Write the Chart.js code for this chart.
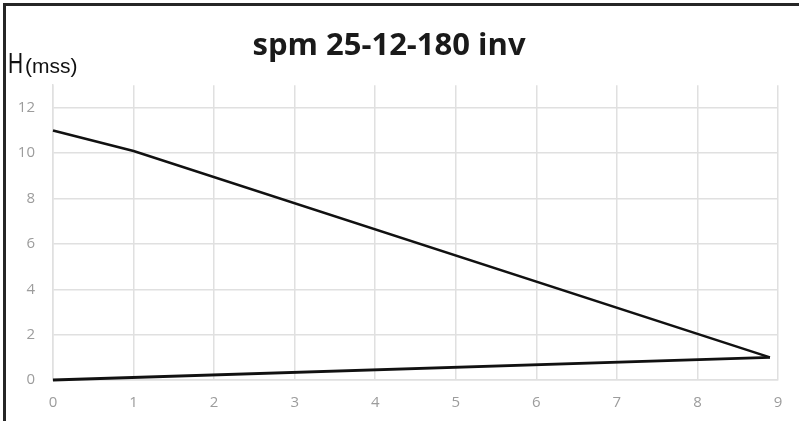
<!DOCTYPE html>
<html>
<head>
<meta charset="utf-8">
<script src="https://cdn.jsdelivr.net/npm/chart.js@4/dist/chart.umd.min.js"></script>
<style>
    html, body { margin: 0; padding: 0; background: #fff; }
    #wrap { position: relative; width: 799px; height: 421px; overflow: hidden; }
    #grafica { position: absolute; left: 0; top: 0; }
    #marco { position: absolute; left: 3px; top: 3px; width: 800px; height: 430px;
             border-top: 3px solid #262626; border-left: 3px solid #262626; pointer-events: none; }
    #ejeY { position: absolute; left: 8px; top: 49px; font-family: "Liberation Sans Narrow", "Liberation Sans", sans-serif;
            color: #111; white-space: nowrap; line-height: 1; }
    #ejeY .h { display: inline-block; font-size: 29px; transform: scaleX(0.72); transform-origin: left; margin-right: -4px; }
    #ejeY .u { font-size: 21px; }
</style>
</head>
<body>
<div id="wrap">
    <canvas id="grafica" width="799" height="421"></canvas>
    <div id="ejeY"><span class="h">H</span><span class="u">(mss)</span></div>
    <div id="marco"></div>
</div>
<script>
// Datos (caudal vs altura)
const titulo = 'spm 25-12-180 inv';
const caudalMax = [0, 1, 8.9];
const alturaMax = [11, 10.1, 1.0];
const caudalMin = [0, 8.9];
const alturaMin = [0, 1.0];
const ticksX = [0, 1, 2, 3, 4, 5, 6, 7, 8, 9];
const ticksY = [0, 2, 4, 6, 8, 10, 12];

const aPuntos = (xs, ys) => xs.map((x, i) => ({ x: x, y: ys[i] }));

const colorGrid = '#e0e0e0';
const colorTick = '#9c9c9c';

const ctx = document.getElementById('grafica').getContext('2d');
const grafica = new Chart(ctx, {
    type: 'line',
    data: {
        datasets: [{
            label: 'max',
            data: aPuntos(caudalMax, alturaMax),
            borderColor: '#111',
            borderWidth: 2.5,
            pointRadius: 0,
            tension: 0,
            clip: false
        }, {
            label: 'min',
            data: aPuntos(caudalMin, alturaMin),
            borderColor: '#111',
            borderWidth: 2.8,
            pointRadius: 0,
            tension: 0,
            clip: false
        }]
    },
    options: {
        responsive: false,
        animation: false,
        layout: { padding: { left: 0, right: 21, top: 0, bottom: 0 } },
        plugins: {
            legend: { display: false },
            tooltip: { enabled: false },
            title: {
                display: true,
                text: titulo,
                color: '#1a1a1a',
                font: { family: 'Open Sans', size: 31, weight: 'bold' },
                padding: { top: 28, bottom: 20 }
            }
        },
        scales: {
            x: {
                type: 'linear',
                min: 0,
                max: 9,
                afterBuildTicks: (scale) => { scale.ticks = ticksX.map(v => ({ value: v })); },
                afterFit: (scale) => { scale.height = 41; },
                grid: { color: colorGrid, lineWidth: 1.5, drawTicks: false },
                border: { color: colorGrid, width: 1.5 },
                ticks: { color: colorTick, padding: 14, font: { family: 'Open Sans', size: 15 } }
            },
            y: {
                type: 'linear',
                min: 0,
                max: 13,
                afterBuildTicks: (scale) => { scale.ticks = ticksY.map(v => ({ value: v })); },
                afterFit: (scale) => { scale.width = 53; },
                grid: { color: colorGrid, lineWidth: 1.5, drawTicks: false },
                border: { color: colorGrid, width: 1.5 },
                ticks: { color: colorTick, padding: 18, font: { family: 'Open Sans', size: 15 } }
            }
        }
    }
});
</script>
</body>
</html>
